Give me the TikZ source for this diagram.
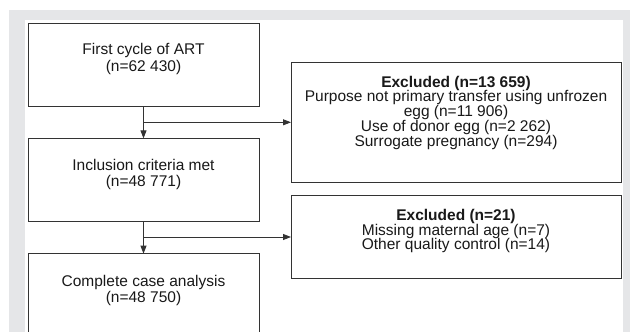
\documentclass[tikz,border=0pt]{standalone}
\usepackage{fontspec}
\setmainfont{Liberation Sans}
\usepackage{tikz}
\usetikzlibrary{positioning, arrows.meta}
\definecolor{framegray}{RGB}{229,230,232}
\definecolor{linegray}{RGB}{51,51,51}
\tikzset{
	>={Triangle[length=8pt,width=6pt]}, % filled arrow heads
	box/.style={draw=linegray, line width=0.9pt, rectangle, inner sep=0pt, outer sep=0pt}, % the flow boxes
	txt/.style={align=center, inner sep=0pt, text=black!90, font=\fontsize{15.5}{16.5}\selectfont}, % text in the left boxes
	txtx/.style={txt, font=\fontsize{15.5}{14.7}\selectfont}, % text in the excluded boxes
 }
\begin{document}
\begin{tikzpicture}[x=1pt, y=-1pt]
        \useasboundingbox (0,0) rectangle (630,332);
        % frame round the figure
        \fill[framegray] (9,10) rectangle (630,340);
        \fill[white] (25,20) rectangle (623,340);

        % Main flow on the left
        \node[box, minimum width=231pt, minimum height=82.7pt] (first) at (143.5,64.7) {};
        \node[box, minimum width=231pt, minimum height=82.7pt] (incl) at (143.5,179.7) {};
        \node[box, minimum width=231pt, minimum height=82.7pt] (comp) at (143.5,295) {};
        \node[txt, below=20pt of first.north] (firsttxt) {First cycle of ART\\(n=62 430)};
        \node[txt, below=20.5pt of incl.north] (incltxt) {Inclusion criteria met\\(n=48 771)};
        \node[txt, below=21pt of comp.north] (comptxt) {Complete case analysis\\(n=48 750)};

        % Exclusions on the right
        \node[box, minimum width=330pt, minimum height=120pt] (exclA) at (456,122.3) {};
        \node[box, minimum width=330pt, minimum height=82.7pt] (exclB) at (456,237) {};
        \node[txtx, below=13.5pt of exclA.north] (exclAtxt)
            {\textbf{Excluded (n=13 659)}\\Purpose not primary transfer using unfrozen\\egg (n=11 906)\\Use of donor egg (n=2 262)\\Surrogate pregnancy (n=294)};
        \node[txtx, below=13.5pt of exclB.north] (exclBtxt)
            {\textbf{Excluded (n=21)}\\Missing maternal age (n=7)\\Other quality control (n=14)};

        % Edges
        \draw[->, linegray, line width=0.9pt] (first) -- (incl);
        \draw[->, linegray, line width=0.9pt] (incl) -- (comp);
        \draw[->, linegray, line width=0.9pt] (first.south |- exclA.west) -- (exclA.west);
        \draw[->, linegray, line width=0.9pt] (incl.south |- exclB.west) -- (exclB.west);
    \end{tikzpicture}
\end{document}
